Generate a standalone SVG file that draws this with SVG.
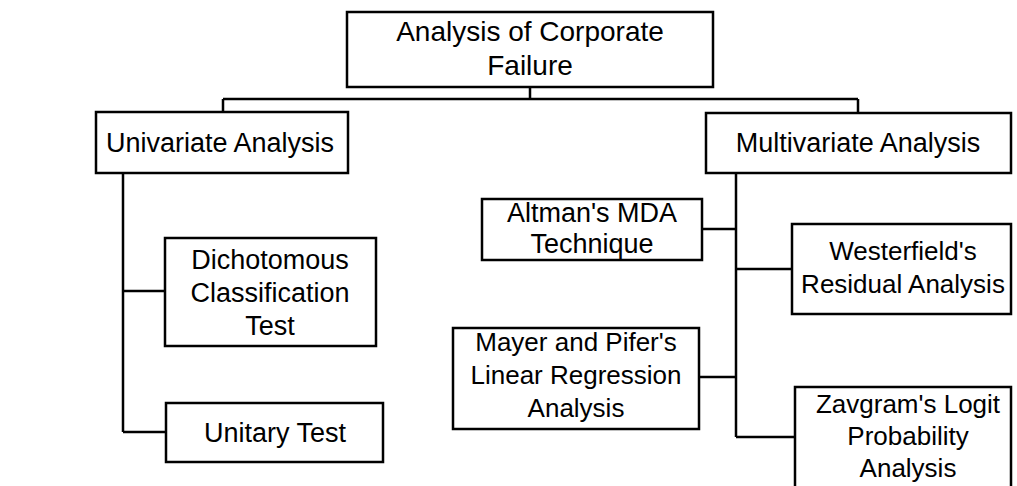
<svg xmlns="http://www.w3.org/2000/svg" width="1017" height="486" viewBox="0 0 1017 486">
<style>
.box{fill:#fff;stroke:#000;stroke-width:2.5}
.ln{fill:none;stroke:#000;stroke-width:2.5}
text{font-family:"Liberation Sans",Arial,sans-serif;font-size:27px;fill:#000;text-anchor:middle}
.sm{font-size:26px}
.lg{font-size:28px}
</style>
<rect width="1017" height="486" fill="#fff"/>
<g id="connectors">
<path class="ln" d="M530 87V99M223 99H858M223 99V112M858 99V113"/>
<path class="ln" d="M123 173V432M123 291H165M123 432H166"/>
<path class="ln" d="M736 173V437M702 229H736M699 377H736M736 269H792M736 437H795"/>
</g>
<g id="root">
<rect class="box" x="347" y="12" width="366" height="75"/>
<text class="lg" x="530" y="41">Analysis of Corporate</text>
<text class="lg" x="530" y="75">Failure</text>
</g>
<g id="univariate">
<rect class="box" x="96" y="112" width="252" height="61"/>
<text x="220" y="152">Univariate Analysis</text>
</g>
<g id="multivariate">
<rect class="box" x="706" y="113" width="305" height="60"/>
<text x="858" y="152">Multivariate Analysis</text>
</g>
<g id="dichotomous">
<rect class="box" x="165" y="238" width="211" height="108"/>
<text x="270" y="269">Dichotomous</text>
<text x="270" y="302">Classification</text>
<text x="270" y="335">Test</text>
</g>
<g id="unitary">
<rect class="box" x="166" y="403" width="217" height="59"/>
<text x="275" y="442">Unitary Test</text>
</g>
<g id="altman">
<rect class="box" x="482" y="199" width="220" height="61"/>
<text x="592" y="222">Altman's MDA</text>
<text x="592" y="253">Technique</text>
</g>
<g id="mayer">
<rect class="box" x="453" y="328" width="246" height="101"/>
<text class="sm" x="576" y="351">Mayer and Pifer's</text>
<text class="sm" x="576" y="384">Linear Regression</text>
<text class="sm" x="576" y="417">Analysis</text>
</g>
<g id="westerfield">
<rect class="box" x="792" y="224" width="219" height="90"/>
<text class="sm" x="903" y="260">Westerfield's</text>
<text class="sm" x="903" y="293">Residual Analysis</text>
</g>
<g id="zavgram">
<rect class="box" x="795" y="387" width="216" height="110"/>
<text class="sm" x="908" y="413">Zavgram's Logit</text>
<text class="sm" x="908" y="445">Probability</text>
<text class="sm" x="908" y="477">Analysis</text>
</g>
</svg>
